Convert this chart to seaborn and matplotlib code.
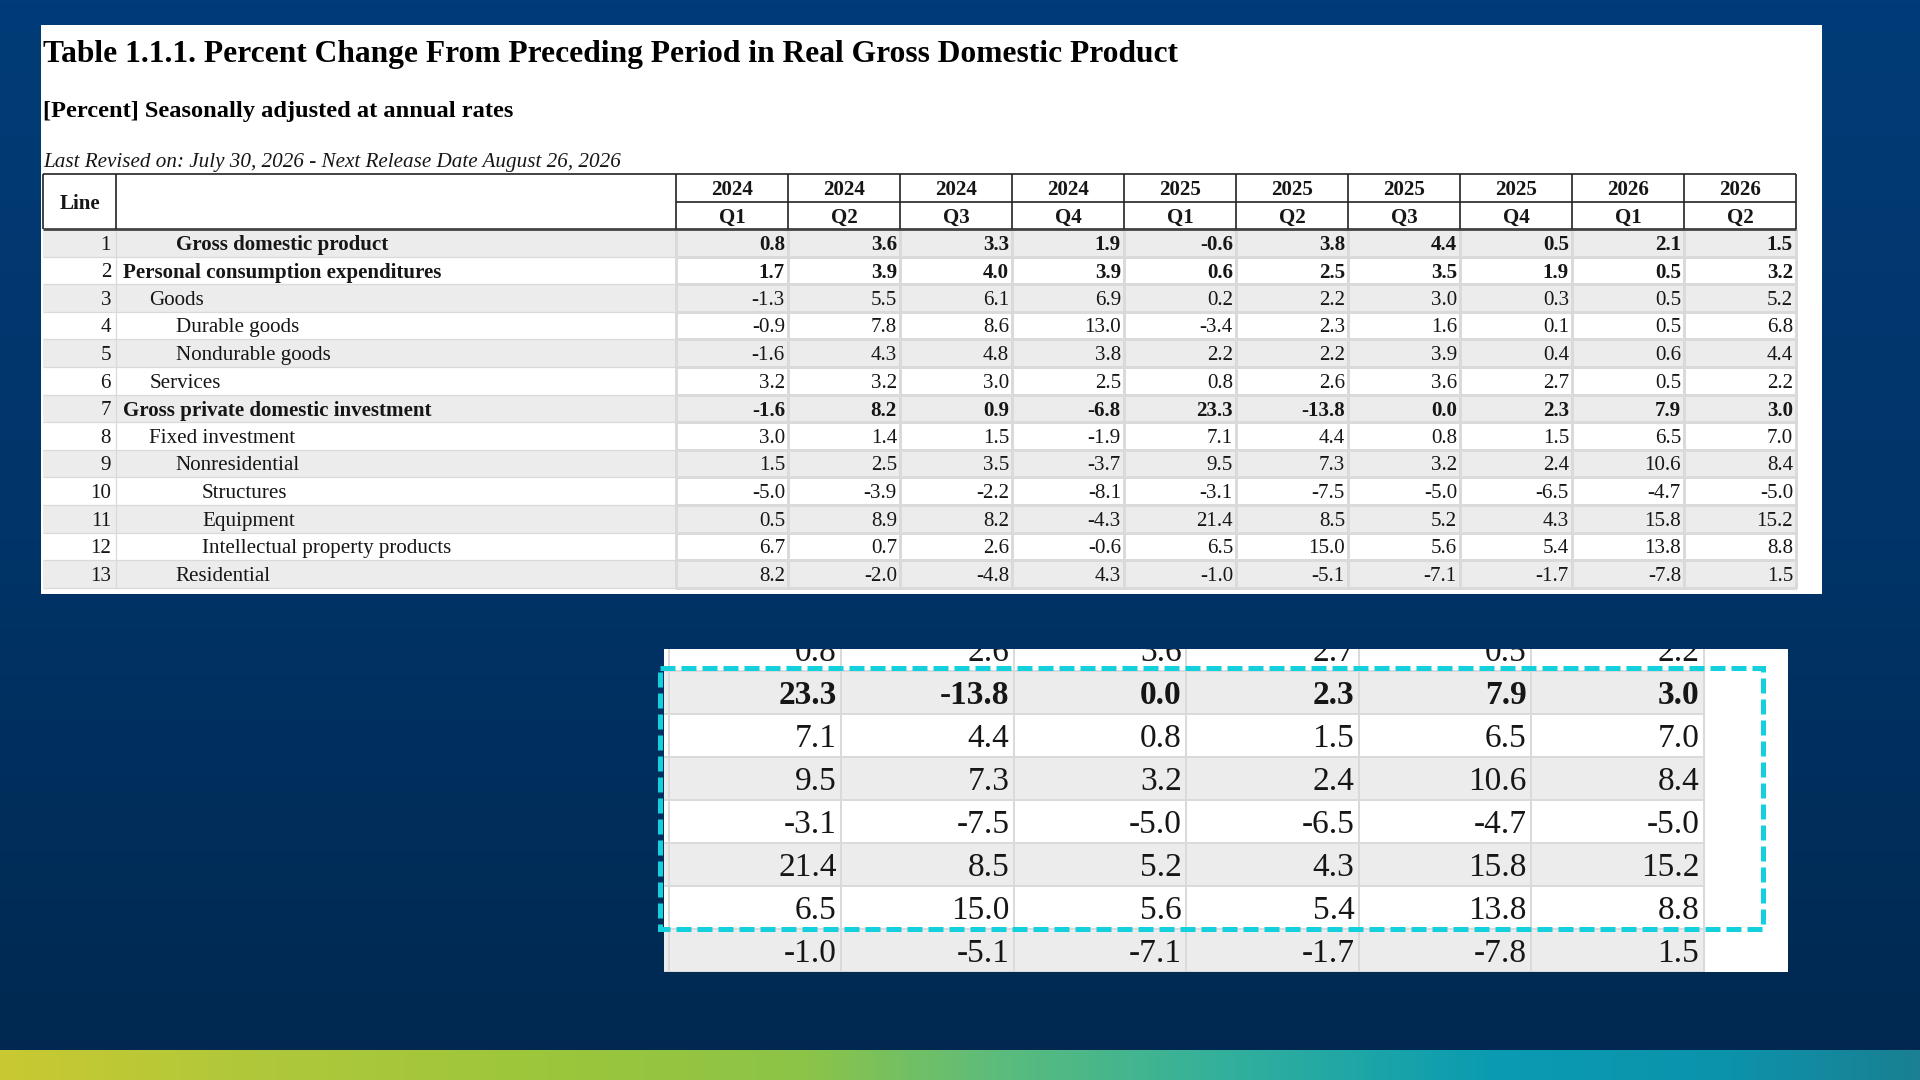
import numpy as np
import pandas as pd
import matplotlib
matplotlib.use("Agg")
import matplotlib.pyplot as plt
from matplotlib.colors import ListedColormap, LinearSegmentedColormap
from matplotlib.patches import Rectangle
import seaborn as sns

years = ["2024", "2024", "2024", "2024", "2025", "2025", "2025", "2025", "2026", "2026"]
quarters = ["Q1", "Q2", "Q3", "Q4", "Q1", "Q2", "Q3", "Q4", "Q1", "Q2"]

line_labels = [
    "Gross domestic product",
    "Personal consumption expenditures",
    "Goods",
    "Durable goods",
    "Nondurable goods",
    "Services",
    "Gross private domestic investment",
    "Fixed investment",
    "Nonresidential",
    "Structures",
    "Equipment",
    "Intellectual property products",
    "Residential",
]
indent_levels = [2, 0, 1, 2, 2, 1, 0, 1, 2, 3, 3, 3, 2]
bold_lines = [1, 2, 7]

gdp = [0.8, 3.6, 3.3, 1.9, -0.6, 3.8, 4.4, 0.5, 2.1, 1.5]
pce = [1.7, 3.9, 4.0, 3.9, 0.6, 2.5, 3.5, 1.9, 0.5, 3.2]
goods = [-1.3, 5.5, 6.1, 6.9, 0.2, 2.2, 3.0, 0.3, 0.5, 5.2]
durable = [-0.9, 7.8, 8.6, 13.0, -3.4, 2.3, 1.6, 0.1, 0.5, 6.8]
nondurable = [-1.6, 4.3, 4.8, 3.8, 2.2, 2.2, 3.9, 0.4, 0.6, 4.4]
services = [3.2, 3.2, 3.0, 2.5, 0.8, 2.6, 3.6, 2.7, 0.5, 2.2]
gpdi = [-1.6, 8.2, 0.9, -6.8, 23.3, -13.8, 0.0, 2.3, 7.9, 3.0]
fixed_inv = [3.0, 1.4, 1.5, -1.9, 7.1, 4.4, 0.8, 1.5, 6.5, 7.0]
nonres = [1.5, 2.5, 3.5, -3.7, 9.5, 7.3, 3.2, 2.4, 10.6, 8.4]
structures = [-5.0, -3.9, -2.2, -8.1, -3.1, -7.5, -5.0, -6.5, -4.7, -5.0]
equipment = [0.5, 8.9, 8.2, -4.3, 21.4, 8.5, 5.2, 4.3, 15.8, 15.2]
ipp = [6.7, 0.7, 2.6, -0.6, 6.5, 15.0, 5.6, 5.4, 13.8, 8.8]
residential = [8.2, -2.0, -4.8, 4.3, -1.0, -5.1, -7.1, -1.7, -7.8, 1.5]

table = pd.DataFrame(
    [gdp, pce, goods, durable, nondurable, services, gpdi,
     fixed_inv, nonres, structures, equipment, ipp, residential],
    index=range(1, len(line_labels) + 1),
    columns=[f"{y} {q}" for y, q in zip(years, quarters)],
)

title = "Table 1.1.1. Percent Change From Preceding Period in Real Gross Domestic Product"
subtitle = "[Percent] Seasonally adjusted at annual rates"
revised = "Last Revised on: July 30, 2026 - Next Release Date August 26, 2026"

sns.set_theme(style="white")
plt.rcParams["font.family"] = ["Liberation Serif", "DejaVu Serif"]

W, H = 1920, 1080
TXT = "#161616"
GRAY_ROW = "#ececec"
GRID = "#dadada"

# table geometry in screen pixels
TAB_L, LINE_R, BODY_L = 43, 116, 676
HEAD_T, HEAD_M, BODY_T = 174, 202, 229
CW, RH = 112, 27.6
FS = 15.1
Y_NUDGE = 0.08  # text sits a touch below the row middle


def u(px):
    return (px - BODY_L) / CW


def v(py):
    return (py - BODY_T) / RH


def fig_rect(l, t, r, b):
    return [l / W, 1 - b / H, (r - l) / W, (b - t) / H]


def draw_table(ax, k, fs, cols=None, rows=None, full=True):
    n_rows, n_cols = table.shape
    cols = range(n_cols) if cols is None else cols
    rows = range(n_rows) if rows is None else rows
    stripes = pd.DataFrame((np.arange(n_rows)[:, None] % 2 == 0) * np.ones((1, n_cols)))
    sns.heatmap(stripes, ax=ax, cmap=ListedColormap(["#ffffff", GRAY_ROW]), vmin=0, vmax=1,
                cbar=False, linewidths=0.9 * k, linecolor=GRID,
                xticklabels=False, yticklabels=False)
    ax.set_facecolor("white")
    for sp in ax.spines.values():
        sp.set_visible(False)
    ax.set_xticks([])
    ax.set_yticks([])
    ax.set_xlabel("")
    ax.set_ylabel("")

    kw = dict(color=TXT, va="center", clip_on=True, zorder=4)
    pad = 3 / CW

    if full:
        # line / label columns
        for i in range(n_rows):
            if i % 2 == 0:
                ax.add_patch(Rectangle((u(TAB_L), i), -u(TAB_L), 1, fc=GRAY_ROW, lw=0, zorder=0.5))
        ax.hlines(range(n_rows + 1), u(TAB_L), 0, color=GRID, lw=0.9 * k, zorder=1)
        ax.vlines(u(LINE_R), 0, n_rows, color=GRID, lw=0.9 * k, zorder=1)

        # header box
        ax.hlines(v(HEAD_T), u(TAB_L), n_cols, color="#222222", lw=1.2 * k, zorder=3)
        ax.hlines(v(HEAD_M), 0, n_cols, color="#222222", lw=1.2 * k, zorder=3)
        ax.hlines(0, u(TAB_L), n_cols, color="#444444", lw=2.0 * k, zorder=3)
        ax.vlines([u(TAB_L), u(LINE_R)] + list(range(n_cols + 1)), v(HEAD_T), 0,
                  color="#222222", lw=1.2 * k, zorder=3)

        ax.text((u(TAB_L) + u(LINE_R)) / 2, v(HEAD_T) / 2 + Y_NUDGE, "Line", ha="center",
                fontsize=fs, fontweight="bold", **kw)
        for c in range(n_cols):
            ax.text(c + 0.5, (v(HEAD_T) + v(HEAD_M)) / 2 + Y_NUDGE, years[c], ha="center",
                    fontsize=fs, fontweight="bold", **kw)
            ax.text(c + 0.5, v(HEAD_M) / 2 + Y_NUDGE, quarters[c], ha="center",
                    fontsize=fs, fontweight="bold", **kw)

    for i in rows:
        line = table.index[i]
        weight = "bold" if line in bold_lines else "normal"
        y = i + 0.5 + Y_NUDGE
        if full:
            ax.text(u(111), y, str(line), ha="right", fontsize=fs, **kw)
            ax.text(u(123 + 26.3 * indent_levels[i]), y, line_labels[i], ha="left",
                    fontsize=fs, fontweight=weight, **kw)
        for c in cols:
            ax.text(c + 1 - pad, y, f"{table.iloc[i, c]:.1f}", ha="right",
                    fontsize=fs, fontweight=weight, **kw)
    return ax


fig = plt.figure(figsize=(W / 100, H / 100), dpi=100)

# background
bg = fig.add_axes([0, 0, 1, 1])
bg.axis("off")
bg_cmap = LinearSegmentedColormap.from_list("bg", ["#023c78", "#013468", "#00284f"])
bg.imshow(np.linspace(0, 1, 256)[:, None], cmap=bg_cmap, aspect="auto", extent=(0, W, H, 0))
bar_cmap = LinearSegmentedColormap.from_list(
    "bar", [(0.0, "#c9c832"), (0.12, "#b2c83a"), (0.3, "#9ac63c"), (0.42, "#8cc448"),
            (0.52, "#5cbc7c"), (0.64, "#32b09c"), (0.78, "#0a9bb2"), (0.9, "#0c93ac"),
            (1.0, "#1a8092")])
bg.imshow(np.linspace(0, 1, 512)[None, :], cmap=bar_cmap, aspect="auto", extent=(0, W, H, 1050))
bg.set_xlim(0, W)
bg.set_ylim(H, 0)

# main table panel
main = fig.add_axes(fig_rect(41, 25, 1822, 594))
draw_table(main, 1.0, FS)
main.set_xlim(u(41), u(1822))
main.set_ylim(v(594), v(25))
main.text(u(43), v(54), title, ha="left", va="center", fontsize=22.7, fontweight="bold", color="black")
main.text(u(43), v(111), subtitle, ha="left", va="center", fontsize=17.6, fontweight="bold", color="black")
main.text(u(43), v(162), revised, ha="left", va="center", fontsize=15.2, fontstyle="italic", color=TXT)

# magnified inset of 2025Q1-2026Q2, lines 6-13
KX, KY = 1.54, 1.558
ins = fig.add_axes(fig_rect(664, 649, 1788, 972))
draw_table(ins, 1.55, 24, cols=range(4, 10), rows=range(5, 13), full=False)
x0 = 4 - 5 / (CW * KX)
ins.set_xlim(x0, x0 + (1788 - 664) / (CW * KX))
ins.set_ylim(13, 13 - (972 - 649) / (RH * KY))

# dashed highlight box
ov = fig.add_axes([0, 0, 1, 1], zorder=10)
ov.patch.set_alpha(0)
ov.axis("off")
ov.set_xlim(0, W)
ov.set_ylim(H, 0)
ov.add_patch(Rectangle((660, 668), 1763 - 660, 929 - 668, fill=False, ec="#14d0dc",
                       lw=3.6, linestyle=(0, (3, 1.2))))

fig.savefig("out.png", dpi=100)
